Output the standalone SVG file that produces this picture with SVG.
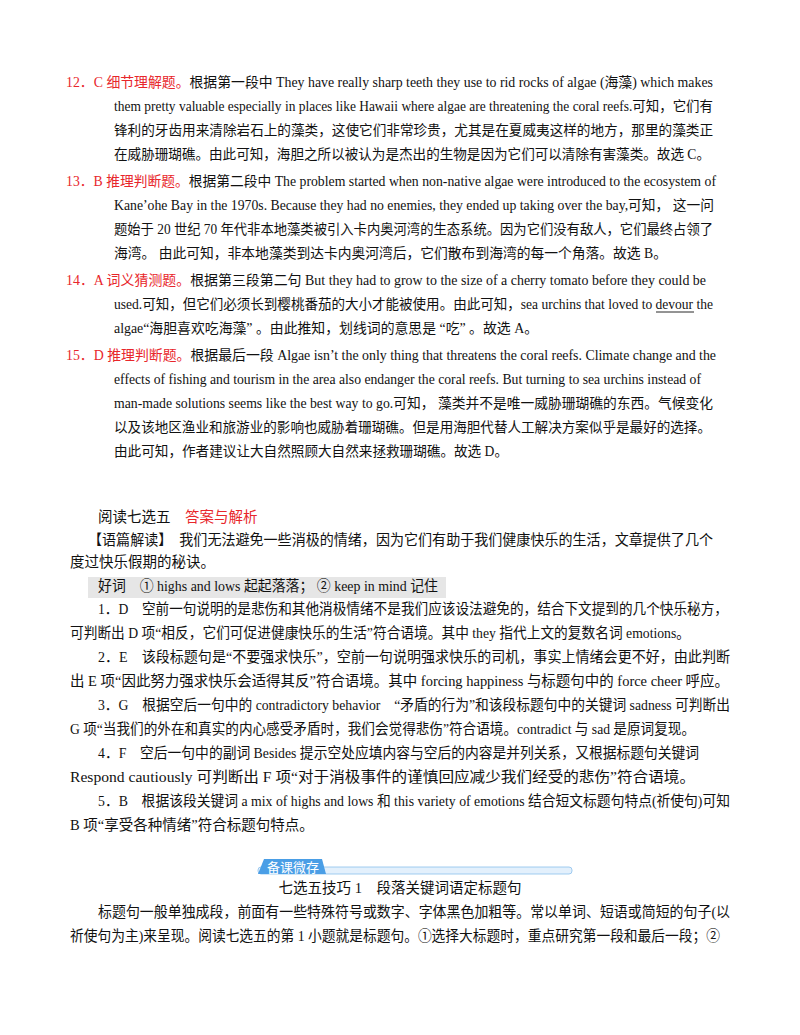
<svg xmlns="http://www.w3.org/2000/svg" width="800" height="1035" viewBox="0 0 800 1035">
<style>
text{font-family:"Liberation Serif","Noto Sans CJK SC",serif;font-size:14px;fill:#111}
.r{fill:#e8262b}
.b{font-family:"Liberation Serif","Noto Sans CJK SC",sans-serif;font-size:14.5px;fill:#111}
</style>
<rect width="800" height="1035" fill="#fff"/>
<g id="q12">
<text x="66" y="87" textLength="647" lengthAdjust="spacingAndGlyphs"><tspan class="r">12．C  细节理解题。</tspan>根据第一段中 They have really sharp teeth they use to rid rocks of algae (海藻) which makes</text>
<text x="114" y="111" textLength="599" lengthAdjust="spacingAndGlyphs">them pretty valuable especially in places like Hawaii where algae are threatening the coral reefs.可知，它们有</text>
<text x="114" y="135" textLength="599" lengthAdjust="spacingAndGlyphs">锋利的牙齿用来清除岩石上的藻类，这使它们非常珍贵，尤其是在夏威夷这样的地方，那里的藻类正</text>
<text x="114" y="159" textLength="596" lengthAdjust="spacingAndGlyphs">在威胁珊瑚礁。由此可知，海胆之所以被认为是杰出的生物是因为它们可以清除有害藻类。故选 C。</text>
</g>
<g id="q13">
<text x="66" y="186" textLength="650" lengthAdjust="spacingAndGlyphs"><tspan class="r">13．B  推理判断题。</tspan>根据第二段中 The problem started when non-native algae were introduced to the ecosystem of</text>
<text x="114" y="210" textLength="600" lengthAdjust="spacingAndGlyphs">Kane’ohe Bay in the 1970s. Because they had no enemies, they ended up taking over the bay,可知，      这一问</text>
<text x="114" y="234" textLength="599" lengthAdjust="spacingAndGlyphs">题始于 20 世纪 70 年代非本地藻类被引入卡内奥河湾的生态系统。因为它们没有敌人，它们最终占领了</text>
<text x="114" y="258" textLength="553" lengthAdjust="spacingAndGlyphs">海湾。      由此可知，非本地藻类到达卡内奥河湾后，它们散布到海湾的每一个角落。故选 B。</text>
</g>
<g id="q14">
<text x="66" y="285" textLength="640" lengthAdjust="spacingAndGlyphs"><tspan class="r">14．A  词义猜测题。</tspan>根据第三段第二句 But they had to grow to the size of a cherry tomato before they could be</text>
<text x="114" y="309" textLength="599" lengthAdjust="spacingAndGlyphs">used.可知，但它们必须长到樱桃番茄的大小才能被使用。由此可知，sea urchins that loved to devour the</text>
<line x1="656" y1="312" x2="694" y2="312" stroke="#111" stroke-width="0.9"/>
<text x="114" y="333" textLength="424" lengthAdjust="spacingAndGlyphs">algae“海胆喜欢吃海藻” 。由此推知，划线词的意思是 “吃” 。故选 A。</text>
</g>
<g id="q15">
<text x="66" y="360" textLength="650" lengthAdjust="spacingAndGlyphs"><tspan class="r">15．D  推理判断题。</tspan>根据最后一段 Algae isn’t the only thing that threatens the coral reefs. Climate change and the</text>
<text x="114" y="384" textLength="587" lengthAdjust="spacingAndGlyphs">effects of fishing and tourism in the area also endanger the coral reefs. But turning to sea urchins instead of</text>
<text x="114" y="408" textLength="599" lengthAdjust="spacingAndGlyphs">man-made solutions seems like the best way to go.可知，      藻类并不是唯一威胁珊瑚礁的东西。气候变化</text>
<text x="114" y="432" textLength="597" lengthAdjust="spacingAndGlyphs">以及该地区渔业和旅游业的影响也威胁着珊瑚礁。但是用海胆代替人工解决方案似乎是最好的选择。</text>
<text x="114" y="456" textLength="394" lengthAdjust="spacingAndGlyphs">由此可知，作者建议让大自然照顾大自然来拯救珊瑚礁。故选 D。</text>
</g>
<g id="section2">
<text class="b" x="98" y="522">阅读七选五　<tspan class="r">答案与解析</tspan></text>
<text class="b" x="88" y="545" textLength="625" lengthAdjust="spacingAndGlyphs">【语篇解读】　我们无法避免一些消极的情绪，因为它们有助于我们健康快乐的生活，文章提供了几个</text>
<text class="b" x="70" y="567">度过快乐假期的秘诀。</text>
<rect x="88" y="577" width="358" height="21" fill="#e6e6e6"/>
<text class="b" x="98" y="591" textLength="340" lengthAdjust="spacingAndGlyphs">好词　① highs and lows  起起落落；  ② keep in mind  记住</text>
<text class="b" x="98" y="614" textLength="630" lengthAdjust="spacingAndGlyphs">1．D　空前一句说明的是悲伤和其他消极情绪不是我们应该设法避免的，结合下文提到的几个快乐秘方，</text>
<text class="b" x="70" y="638" textLength="620" lengthAdjust="spacingAndGlyphs">可判断出 D 项“相反，它们可促进健康快乐的生活”符合语境。其中 they  指代上文的复数名词 emotions。</text>
<text class="b" x="98" y="662" textLength="632" lengthAdjust="spacingAndGlyphs">2．E　该段标题句是“不要强求快乐”，空前一句说明强求快乐的司机，事实上情绪会更不好，由此判断</text>
<text class="b" x="70" y="686" textLength="659" lengthAdjust="spacingAndGlyphs">出 E 项“因此努力强求快乐会适得其反”符合语境。其中 forcing happiness 与标题句中的 force cheer 呼应。</text>
<text class="b" x="98" y="710" textLength="632" lengthAdjust="spacingAndGlyphs">3．G　根据空后一句中的 contradictory behavior　“矛盾的行为”和该段标题句中的关键词 sadness 可判断出</text>
<text class="b" x="70" y="734" textLength="625" lengthAdjust="spacingAndGlyphs">G 项“当我们的外在和真实的内心感受矛盾时，我们会觉得悲伤”符合语境。contradict 与 sad 是原词复现。</text>
<text class="b" x="98" y="758" textLength="601" lengthAdjust="spacingAndGlyphs">4．F　空后一句中的副词 Besides 提示空处应填内容与空后的内容是并列关系，又根据标题句关键词</text>
<text class="b" x="70" y="782" textLength="625" lengthAdjust="spacingAndGlyphs">Respond cautiously 可判断出 F 项“对于消极事件的谨慎回应减少我们经受的悲伤”符合语境。</text>
<text class="b" x="98" y="806" textLength="632" lengthAdjust="spacingAndGlyphs">5．B　根据该段关键词 a mix of highs and lows 和 this variety of emotions 结合短文标题句特点(祈使句)可知</text>
<text class="b" x="70" y="830">B 项“享受各种情绪”符合标题句特点。</text>
</g>
<g id="banner">
<rect x="258" y="867" width="314" height="7" rx="3" fill="#e3f0fc" stroke="#8cc0ec" stroke-width="0.8"/>
<path d="M258 874 L264 859 L322 859 L326 874 Z" fill="#4a9ee6"/>
<text x="267" y="872" style="font-family:'Noto Sans CJK SC',sans-serif;font-size:13px;fill:#fff">备课微存</text>
</g>
<g id="section3">
<text class="b" x="400" y="893" text-anchor="middle">七选五技巧 1　段落关键词语定标题句</text>
<text class="b" x="98" y="917" textLength="632" lengthAdjust="spacingAndGlyphs">标题句一般单独成段，前面有一些特殊符号或数字、字体黑色加粗等。常以单词、短语或简短的句子(以</text>
<text class="b" x="70" y="941" textLength="650" lengthAdjust="spacingAndGlyphs">祈使句为主)来呈现。阅读七选五的第 1 小题就是标题句。①选择大标题时，重点研究第一段和最后一段；②</text>
</g>
</svg>
